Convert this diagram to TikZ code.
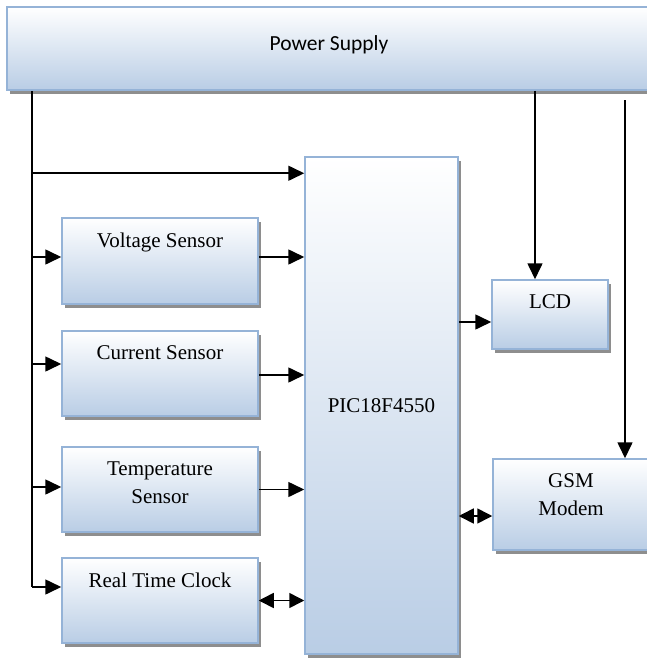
\documentclass[tikz,border=0pt]{standalone}
\usepackage{fontspec}
\setmainfont{Liberation Serif}
\newfontfamily\supplyfont{Carlito}
\usetikzlibrary{arrows.meta,shadows}
\definecolor{blockedge}{HTML}{95B3D7}
\definecolor{blockfill}{HTML}{B9CDE5}
\definecolor{shadowgray}{HTML}{8E8E8E}

\begin{document}
\begin{tikzpicture}[
  x=1pt, y=-1pt,
  block/.style={rectangle,draw=blockedge,line width=1.5pt,inner sep=0pt,
    top color=white,bottom color=blockfill,
    drop shadow={shadow xshift=3pt,shadow yshift=-4pt,fill=shadowgray,opacity=1},
    font=\fontsize{21}{28}\selectfont},
  blocksize/.style 2 args={minimum width=#1pt,minimum height=#2pt},
  boxtext/.style={anchor=north,yshift=-15pt,inner sep=0pt,align=center,
    font=\fontsize{21}{28}\selectfont},
  arr/.style={draw,line width=1.6pt,-{Triangle[length=16pt,width=15pt]}},
  dblarr/.style={draw,line width=1.6pt,
    {Triangle[length=15pt,width=15pt]}-{Triangle[length=15pt,width=15pt]}}
]
  \useasboundingbox (0,0) rectangle (647,659);

  \node[block,blocksize={644}{83},
    label={[anchor=north,yshift=-29pt,inner sep=0pt,
      font=\supplyfont\fontsize{21.5}{28}\selectfont]north:Power Supply}]
    (power) at (329,48.5) {};
  \node[block,blocksize={153}{497}] (pic) at (381.5,405.5) {PIC18F4550};
  \node[block,blocksize={196}{86},label={[boxtext]north:Voltage Sensor}]
    (volt) at (160,261) {};
  \node[block,blocksize={196}{85},label={[boxtext]north:Current Sensor}]
    (curr) at (160,373.5) {};
  \node[block,blocksize={196}{85},label={[boxtext]north:Temperature\\Sensor}]
    (temp) at (160,489.5) {};
  \node[block,blocksize={196}{85},label={[boxtext]north:Real Time Clock}]
    (rtc) at (160,600.5) {};
  \node[block,blocksize={116}{69},label={[boxtext]north:LCD}]
    (lcd) at (550,314.5) {};
  \node[block,blocksize={156}{91},label={[boxtext]north:GSM\\Modem}]
    (gsm) at (571,504.5) {};

  \coordinate (bustop) at ([xshift=26pt]power.south west);
  \coordinate (busend) at ([yshift=13.5pt]rtc.west -| bustop);
  \coordinate (gsmfeed) at (625,100);

  \draw[line width=1.6pt] (bustop) -- (busend);
  \draw[arr] ([yshift=-17pt]pic.north west -| bustop) -- ([yshift=-17pt]pic.north west);
  \draw[arr] ([yshift=4pt]volt.west -| bustop) -- ([yshift=4pt]volt.west);
  \draw[arr] ([yshift=9.5pt]curr.west -| bustop) -- ([yshift=9.5pt]curr.west);
  \draw[arr] ([yshift=2.5pt]temp.west -| bustop) -- ([yshift=2.5pt]temp.west);
  \draw[arr] (busend) -- (busend -| rtc.west);

  \draw[arr] ([yshift=4pt]volt.east) -- ([yshift=4pt]volt.east -| pic.west);
  \draw[arr] ([yshift=-1.5pt]curr.east) -- ([yshift=-1.5pt]curr.east -| pic.west);
  \draw[arr] (temp.east) -- (temp.east -| pic.west);
  \draw[dblarr] (rtc.east) -- (rtc.east -| pic.west);

  \draw[arr] ([yshift=-7.5pt]lcd.west -| pic.east) -- ([yshift=-7.5pt]lcd.west);
  \draw[dblarr] ([yshift=-11.5pt]gsm.west -| pic.east) -- ([yshift=-11.5pt]gsm.west);
  \draw[arr] ([xshift=-15pt]lcd.north |- power.south) -- ([xshift=-15pt]lcd.north);
  \draw[arr] (gsmfeed) -- (gsmfeed |- gsm.north);
\end{tikzpicture}
\end{document}
